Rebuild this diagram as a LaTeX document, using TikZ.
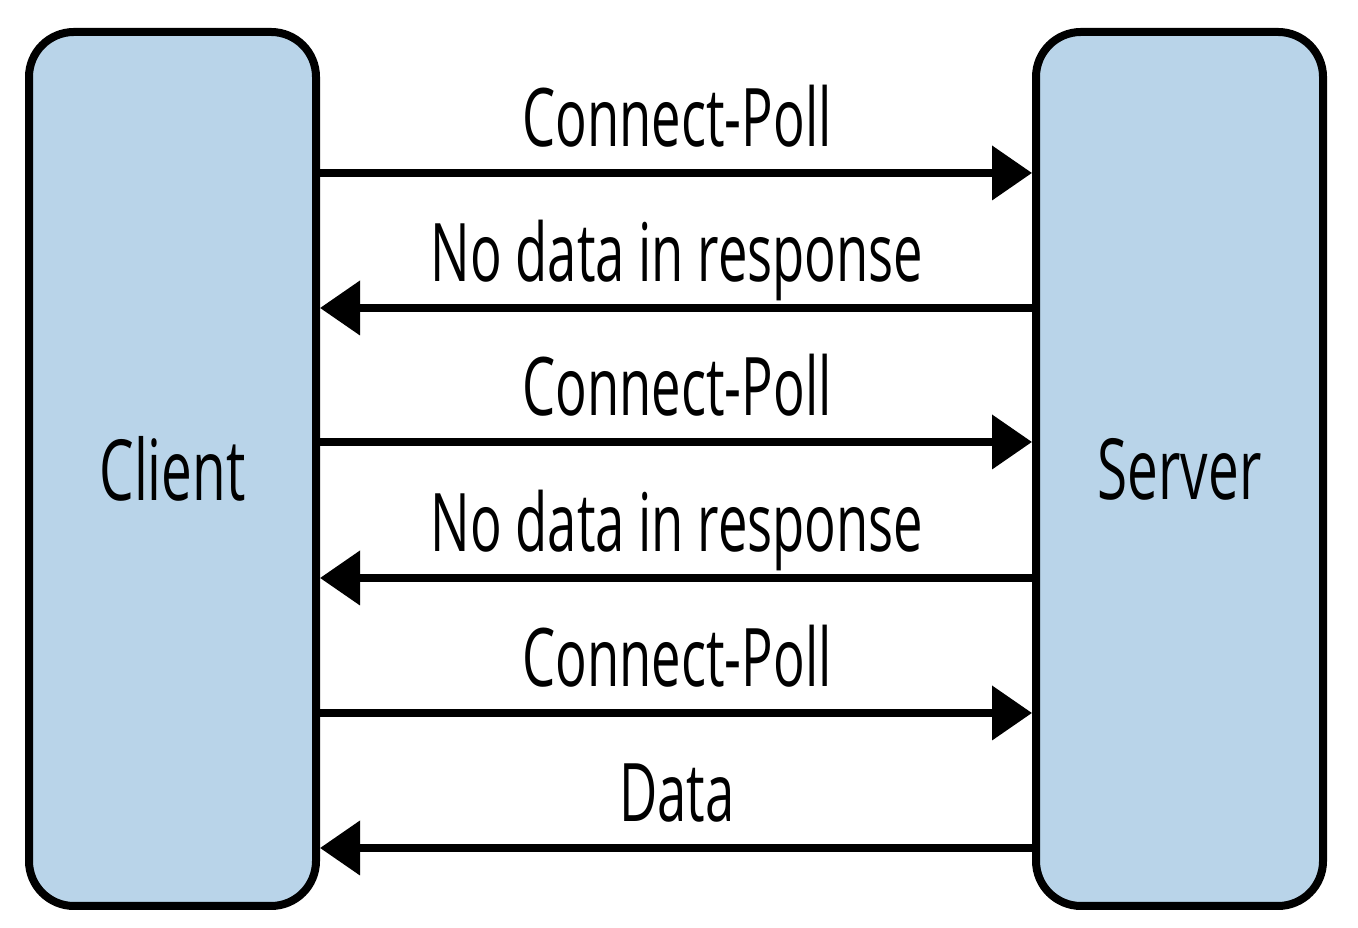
\documentclass[tikz,border=0pt]{standalone}
\usepackage{fontspec}
\setmainfont[FakeStretch=0.65]{Open Sans}
\usetikzlibrary{arrows.meta}
\usetikzlibrary{positioning}
\definecolor{boxblue}{RGB}{185,212,233}

\begin{document}
\begin{tikzpicture}[
        party/.style={draw, line width=0.08cm, fill=boxblue, rounded corners=0.45cm,
            minimum width=2.87cm, minimum height=8.74cm, inner sep=0pt,
            font=\fontsize{24}{28}\selectfont},
        msg/.style={line width=0.075cm, -{Triangle[length=0.4cm,width=0.53cm]}},
        msglabel/.style={anchor=base, font=\fontsize{23}{27}\selectfont}
    ]
    \useasboundingbox (0,0) rectangle (13.58,9.28);

    % Client and server
    \node[party] (client) at (1.725,4.59) {Client};
    \node[party] (server) at (11.795,4.59) {Server};

    % Polling messages
    \foreach \y/\txt/\dir [count=\i] in {7.55/Connect-Poll/r, 6.20/No data in response/l,
                                         4.86/Connect-Poll/r, 3.50/No data in response/l,
                                         2.15/Connect-Poll/r, 0.80/Data/l} {
        \coordinate (m\i) at (6.77,\y);
        \node[msglabel] (t\i) at ([yshift=0.26cm]m\i) {\txt};
        \if\dir r
            \draw[msg] (client.east |- m\i) -- (server.west |- m\i);
        \else
            \draw[msg] (server.west |- m\i) -- (client.east |- m\i);
        \fi
    }
\end{tikzpicture}
\end{document}
